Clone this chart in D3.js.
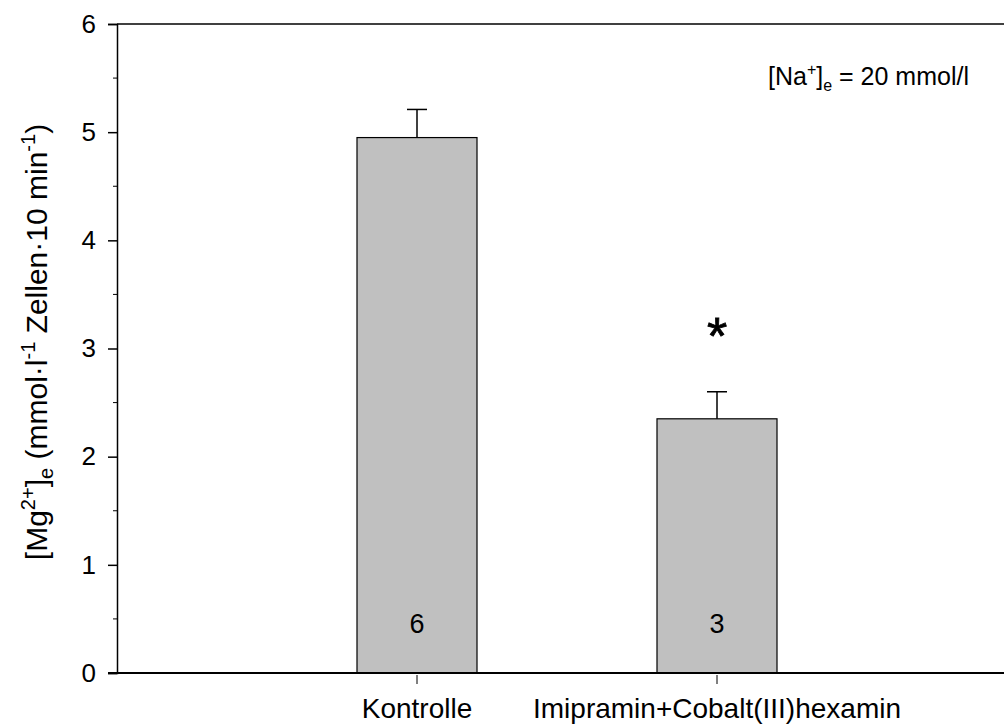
<!DOCTYPE html>
<html>
<head>
<meta charset="utf-8">
<script src="https://cdn.jsdelivr.net/npm/d3@7.9.0/dist/d3.min.js"></script>
<style>
  html, body { margin: 0; padding: 0; background: #fff; }
  svg { display: block; font-family: "Liberation Sans", Arial, sans-serif; }
</style>
</head>
<body>
<svg id="chart" width="1004" height="724"></svg>
<script>
// data
var categories = ['Kontrolle', 'Imipramin+Cobalt(III)hexamin']
var means = [4.95, 2.35]
var errors = [0.26, 0.25]
var counts = ['6', '3']
var significant = [false, true]
var yTicks = [0, 1, 2, 3, 4, 5, 6]

var svg = d3.select('#chart')
var padL = 117, padR = 1004, padT = 24, padB = 673

var y = d3.scaleLinear().domain([0, 6]).range([padB, padT])
// categories sit at positions 1 and 2
var x = d3.scaleLinear().domain([0, 3]).range([padL, padL + 900])
var barW = 120

// top frame line
svg.append('line')
    .attr('x1', padL).attr('x2', padR)
    .attr('y1', padT).attr('y2', padT)
    .attr('stroke', '#000').attr('stroke-width', 1.5)

// y axis
var yAxis = d3.axisLeft(y).tickValues(yTicks).tickSize(9).tickPadding(12).tickFormat(d3.format('d'))
var gy = svg.append('g').attr('transform', 'translate(' + padL + ',0)').call(yAxis)
gy.select('.domain').attr('stroke-width', 1.5)
gy.selectAll('.tick line').attr('stroke-width', 1.5)
gy.selectAll('.tick text').attr('font-size', 26).attr('font-family', '"Liberation Sans", Arial, sans-serif')

// minor ticks
var minor = d3.range(0.5, 6, 1)
svg.append('g').selectAll('line').data(minor).enter().append('line')
    .attr('x1', padL - 4).attr('x2', padL)
    .attr('y1', function (d) { return y(d) }).attr('y2', function (d) { return y(d) })
    .attr('stroke', '#000').attr('stroke-width', 1)

// bars
var bars = svg.append('g')
bars.selectAll('rect').data(means).enter().append('rect')
    .attr('x', function (d, i) { return x(i + 1) - barW / 2 })
    .attr('y', function (d) { return y(d) })
    .attr('width', barW)
    .attr('height', function (d) { return padB - y(d) })
    .attr('fill', '#c0c0c0')
    .attr('stroke', '#000')
    .attr('stroke-width', 1.2)

// error bars (upper only)
var eg = svg.append('g')
means.forEach(function (m, i) {
    var cx = x(i + 1)
    eg.append('line')
        .attr('x1', cx).attr('x2', cx)
        .attr('y1', y(m)).attr('y2', y(m + errors[i]))
        .attr('stroke', '#000').attr('stroke-width', 1.5)
    eg.append('line')
        .attr('x1', cx - 10).attr('x2', cx + 10)
        .attr('y1', y(m + errors[i])).attr('y2', y(m + errors[i]))
        .attr('stroke', '#000').attr('stroke-width', 1.5)
    if (significant[i]) {
        eg.append('text')
            .attr('x', cx).attr('y', y(3.19) + 26)
            .attr('text-anchor', 'middle')
            .attr('font-size', 52)
            .attr('stroke', '#000').attr('stroke-width', 0.8)
            .text('*')
    }
    svg.append('text')
        .attr('x', cx).attr('y', 633)
        .attr('text-anchor', 'middle')
        .attr('font-size', 27)
        .text(counts[i])
})

// x axis line
svg.append('line')
    .attr('x1', padL - 9).attr('x2', padR)
    .attr('y1', padB).attr('y2', padB)
    .attr('stroke', '#000').attr('stroke-width', 2)

var gx = svg.append('g')
categories.forEach(function (c, i) {
    var cx = x(i + 1)
    gx.append('line')
        .attr('x1', cx).attr('x2', cx)
        .attr('y1', padB + 2).attr('y2', padB + 11)
        .attr('stroke', '#000').attr('stroke-width', 1)
    gx.append('text')
        .attr('x', cx).attr('y', 718)
        .attr('text-anchor', 'middle')
        .attr('font-size', 28)
        .text(c)
})

// y axis title
var yt = svg.append('text')
    .attr('transform', 'translate(47,342) rotate(-90)')
    .attr('text-anchor', 'middle')
    .attr('font-size', 30)
yt.append('tspan').text('[Mg')
yt.append('tspan').attr('font-size', 20).attr('dy', -12).text('2+')
yt.append('tspan').attr('dy', 12).text(']')
yt.append('tspan').attr('font-size', 20).attr('dy', 6).text('e')
yt.append('tspan').attr('dy', -6).text(' (mmol\u00b7l')
yt.append('tspan').attr('font-size', 20).attr('dy', -12).text('-1')
yt.append('tspan').attr('dy', 12).text(' Zellen\u00b710 min')
yt.append('tspan').attr('font-size', 20).attr('dy', -12).text('-1')
yt.append('tspan').attr('dy', 12).text(')')

// annotation
var an = svg.append('text')
    .attr('x', 768).attr('y', 85)
    .attr('font-size', 25)
an.append('tspan').text('[Na')
an.append('tspan').attr('font-size', 16).attr('dy', -10).text('+')
an.append('tspan').attr('dy', 10).text(']')
an.append('tspan').attr('font-size', 16).attr('dy', 6).text('e')
an.append('tspan').attr('dy', -6).text(' = 20 mmol/l')
</script>
</body>
</html>
